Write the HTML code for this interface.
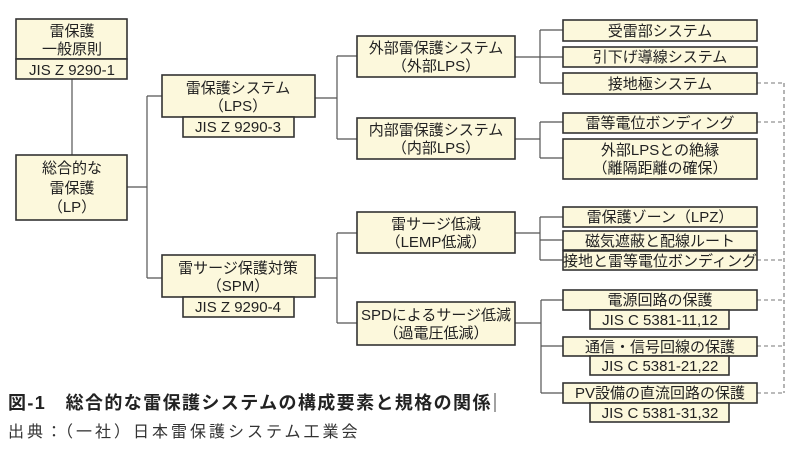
<!DOCTYPE html>
<html><head><meta charset="utf-8"><style>
html,body{margin:0;padding:0;background:#fff;width:800px;height:451px;overflow:hidden}
svg{display:block}
text{font-family:"Liberation Sans","Noto Sans CJK JP",sans-serif;fill:#222;font-size:15px;text-anchor:middle}
.b{fill:#fcf8dc;stroke:#333;stroke-width:1.6}
.l{stroke:#555;stroke-width:1.2;fill:none}
.d{stroke:#777;stroke-width:1.1;fill:none;stroke-dasharray:4,3}
</style></head><body>
<svg width="800" height="451" viewBox="0 0 800 451">
<path class="l" d="M72 79V155 M127 187H147 M147 96V278 M147 96H162 M147 278H162
M315 98H337 M337 56V139 M337 56H357 M337 139H357
M315 278H337 M337 233V323 M337 233H357 M337 323H357
M515 57H540 M540 30V83 M540 30H563 M540 57H563 M540 83H563
M515 139H540 M540 122V158 M540 122H563 M540 158H563
M515 233H540 M540 217V260 M540 217H563 M540 240H563 M540 260H563
M515 323H541 M541 300V393 M541 300H563 M541 346H563 M541 393H563"/>
<path class="d" d="M757 83H784 M757 122H784 M757 260H784 M757 300H784 M757 346H784 M757 393H784 M784 83V393"/>
<rect class="b" x="16" y="19" width="111" height="40"/>
<text x="72" y="36">雷保護</text><text x="72" y="54">一般原則</text>
<rect class="b" x="16" y="59" width="111" height="20"/>
<text x="72" y="75">JIS Z 9290-1</text>
<rect class="b" x="16" y="155" width="111" height="65"/>
<text x="72" y="173">総合的な</text><text x="72" y="193">雷保護</text><text x="72" y="212">（LP）</text>
<rect class="b" x="162" y="75" width="153" height="42"/>
<text x="238" y="93">雷保護システム</text><text x="238" y="111">（LPS）</text>
<rect class="b" x="183" y="117" width="111" height="20"/>
<text x="238" y="132">JIS Z 9290-3</text>
<rect class="b" x="162" y="255" width="153" height="42"/>
<text x="238" y="273">雷サージ保護対策</text><text x="238" y="291">（SPM）</text>
<rect class="b" x="183" y="297" width="111" height="20"/>
<text x="238" y="312">JIS Z 9290-4</text>
<rect class="b" x="357" y="36" width="158" height="41"/>
<text x="436" y="53">外部雷保護システム</text><text x="436" y="71">（外部LPS）</text>
<rect class="b" x="357" y="118" width="158" height="41"/>
<text x="436" y="135">内部雷保護システム</text><text x="436" y="153">（内部LPS）</text>
<rect class="b" x="357" y="212" width="158" height="41"/>
<text x="436" y="229">雷サージ低減</text><text x="436" y="247">（LEMP低減）</text>
<rect class="b" x="357" y="302" width="158" height="43"/>
<text x="436" y="320">SPDによるサージ低減</text><text x="436" y="338">（過電圧低減）</text>
<rect class="b" x="563" y="20" width="194" height="21"/><text x="660" y="36">受雷部システム</text>
<rect class="b" x="563" y="47" width="194" height="20"/><text x="660" y="62">引下げ導線システム</text>
<rect class="b" x="563" y="73" width="194" height="21"/><text x="660" y="89">接地極システム</text>
<rect class="b" x="563" y="113" width="194" height="20"/><text x="660" y="128">雷等電位ボンディング</text>
<rect class="b" x="563" y="139" width="194" height="40"/><text x="660" y="155">外部LPSとの絶縁</text><text x="660" y="173">（離隔距離の確保）</text>
<rect class="b" x="563" y="207" width="194" height="20"/><text x="660" y="222">雷保護ゾーン（LPZ）</text>
<rect class="b" x="563" y="231" width="194" height="19"/><text x="660" y="246">磁気遮蔽と配線ルート</text>
<rect class="b" x="563" y="251" width="194" height="19"/><text x="660" y="266">接地と雷等電位ボンディング</text>
<rect class="b" x="563" y="290" width="194" height="20"/><text x="660" y="305">電源回路の保護</text>
<rect class="b" x="590" y="310" width="139" height="19"/><text x="660" y="325">JIS C 5381-11,12</text>
<rect class="b" x="563" y="337" width="194" height="19"/><text x="660" y="352">通信・信号回線の保護</text>
<rect class="b" x="590" y="356" width="139" height="19"/><text x="660" y="371">JIS C 5381-21,22</text>
<rect class="b" x="563" y="383" width="194" height="20"/><text x="660" y="398">PV設備の直流回路の保護</text>
<rect class="b" x="590" y="403" width="139" height="19"/><text x="660" y="418">JIS C 5381-31,32</text>
<text x="8" y="409" style="text-anchor:start;font-size:18px;font-weight:bold;letter-spacing:1.4px">図-1　総合的な雷保護システムの構成要素と規格の関係</text>
<line x1="495" y1="393" x2="495" y2="412" stroke="#444" stroke-width="1"/>
<text x="8" y="437" style="text-anchor:start;font-size:16px;letter-spacing:3px;fill:#333">出典：（一社）日本雷保護システム工業会</text>
</svg>
</body></html>
